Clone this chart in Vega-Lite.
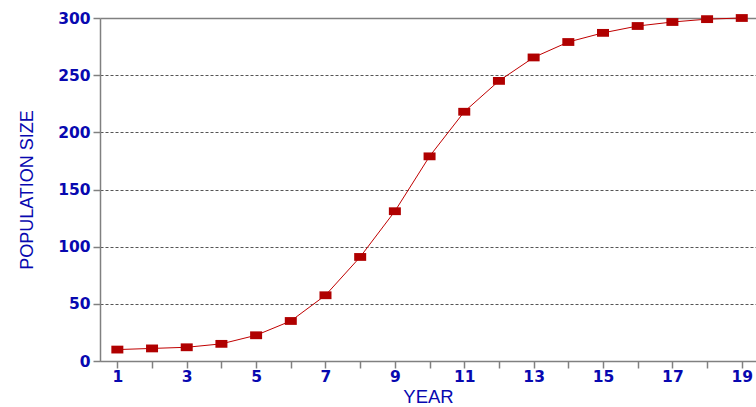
{
  "$schema": "https://vega.github.io/schema/vega-lite/v6.json",
  "autosize": {"type": "none"},
  "width": 656,
  "height": 343,
  "padding": {"left": 100, "top": 18, "right": 0, "bottom": 46},
  "background": "white",
  "config": {
    "view": {"stroke": null},
    "axis": {
      "labelFont": "DejaVu Sans",
      "labelFontWeight": "bold",
      "labelFontSize": 15.5,
      "labelColor": "#0808B0",
      "titleFont": "Liberation Sans",
      "titleFontWeight": "normal",
      "titleColor": "#0808B0",
      "domainColor": "#808080",
      "domainWidth": 1.5,
      "tickColor": "#808080",
      "tickWidth": 1.5,
      "tickSize": 7
    }
  },
  "data": {
    "values": [
      {"year": 1, "pop": 10},
      {"year": 2, "pop": 11},
      {"year": 3, "pop": 12},
      {"year": 4, "pop": 15},
      {"year": 5, "pop": 22.5},
      {"year": 6, "pop": 35},
      {"year": 7, "pop": 57.5},
      {"year": 8, "pop": 91},
      {"year": 9, "pop": 131},
      {"year": 10, "pop": 179},
      {"year": 11, "pop": 218},
      {"year": 12, "pop": 245},
      {"year": 13, "pop": 265.5},
      {"year": 14, "pop": 279},
      {"year": 15, "pop": 287},
      {"year": 16, "pop": 293},
      {"year": 17, "pop": 296.5},
      {"year": 18, "pop": 299},
      {"year": 19, "pop": 300}
    ]
  },
  "encoding": {
    "x": {
      "field": "year",
      "type": "quantitative",
      "scale": {"domain": [0.5, 19.41], "nice": false, "zero": false},
      "axis": {
        "title": "YEAR",
        "titleFontSize": 18.5,
        "titleY": 41,
        "titleBaseline": "alphabetic",
        "values": [1,2,3,4,5,6,7,8,9,10,11,12,13,14,15,16,17,18,19],
        "labelExpr": "datum.value % 2 == 1 ? datum.label : ''",
        "labelPadding": 1,
        "labelOverlap": false,
        "grid": false
      }
    },
    "y": {
      "field": "pop",
      "type": "quantitative",
      "scale": {"domain": [0, 300], "nice": false},
      "axis": {
        "title": "POPULATION SIZE",
        "titleFontSize": 18,
        "titleX": -68,
        "titleBaseline": "alphabetic",
        "values": [0, 50, 100, 150, 200, 250, 300],
        "labelPadding": 3,
        "grid": true,
        "gridColor": {"condition": {"test": "datum.value == 300", "value": "#808080"}, "value": "#555555"},
        "gridDash": {"condition": {"test": "datum.value == 300", "value": []}, "value": [3, 2]},
        "gridWidth": {"condition": {"test": "datum.value == 300", "value": 1.5}, "value": 1}
      }
    }
  },
  "layer": [
    {"mark": {"type": "line", "color": "#C00000", "strokeWidth": 1}},
    {
      "mark": {
        "type": "point",
        "shape": "M-1,-0.65L1,-0.65L1,0.65L-1,0.65Z",
        "size": 144,
        "filled": true,
        "opacity": 1,
        "color": "#B00000"
      }
    }
  ]
}
